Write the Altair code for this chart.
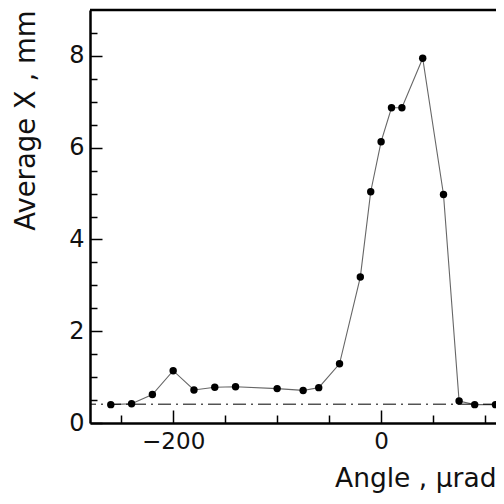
import altair as alt
import pandas as pd

# data
angle = [-260, -240, -220, -200, -180, -160, -140, -100, -75, -60, -40,
         -20, -10, 0, 10, 20, 40, 60, 75, 90, 110]
avg_x = [0.40, 0.42, 0.62, 1.14, 0.72, 0.78, 0.79, 0.75, 0.71, 0.77, 1.29,
         3.18, 5.04, 6.13, 6.87, 6.87, 7.95, 4.98, 0.48, 0.40, 0.40]
baseline_level = [0.41]

x_label_values = [-200, 0]
x_tick_values = [-250, -200, -150, -100, -50, 0, 50, 100]
y_label_values = [0, 2, 4, 6, 8]
y_tick_values = [0, 0.5, 1, 1.5, 2, 2.5, 3, 3.5, 4, 4.5, 5, 5.5, 6, 6.5,
                 7, 7.5, 8, 8.5]

x_domain = [-280, 110.5]
y_domain = [0, 9]

W, H = 406, 413
FONT = "DejaVu Sans"

df = pd.DataFrame({"angle": angle, "avg": avg_x})
df_base = pd.DataFrame({"level": baseline_level})

xs = alt.Scale(domain=x_domain, nice=False, zero=False)
ys = alt.Scale(domain=y_domain, nice=False, zero=False)

x_main = alt.X("angle:Q", scale=xs, axis=alt.Axis(
    orient="bottom", values=x_label_values, ticks=False, tickSize=0, grid=False,
    domain=True, domainColor="black", domainWidth=2.5,
    labelFont=FONT, labelFontSize=23, labelColor="#111", labelPadding=7,
    labelExpr="datum.value < 0 ? '\u2212' + abs(datum.value) : datum.label",
    title="Angle , \u03bcrad", titleFont=FONT, titleFontSize=26.5,
    titleFontWeight="normal", titleColor="#111", titleAnchor="end",
    titleAlign="right", titleBaseline="alphabetic", titleX=W, titleY=63))
y_main = alt.Y("avg:Q", scale=ys, axis=alt.Axis(
    orient="left", values=y_label_values, ticks=False, tickSize=0, grid=False,
    domain=True, domainColor="black", domainWidth=2.5,
    labelFont=FONT, labelFontSize=24, labelColor="#111", labelPadding=6,
    title="Average X , mm", titleFont=FONT, titleFontSize=27.5,
    titleFontWeight="normal", titleColor="#111", titleAngle=270,
    titleAlign="right", titleBaseline="alphabetic", titleX=-56, titleY=0))

base = alt.Chart(df)

line = base.mark_line(color="#666", strokeWidth=1.1).encode(x=x_main, y=y_main)
points = base.mark_circle(size=55, color="black", opacity=1).encode(
    x=alt.X("angle:Q", scale=xs, axis=None), y=alt.Y("avg:Q", scale=ys, axis=None))

# inward tick marks: axes moved onto the opposite edge
ticks = base.mark_point(opacity=0).encode(
    x=alt.X("angle:Q", scale=xs, axis=alt.Axis(
        orient="top", offset=-H, values=x_tick_values, labels=False,
        domain=False, grid=False, title=None, tickColor="black", tickWidth=1.5,
        tickSize=alt.condition("datum.value % 200 === 0", alt.value(13), alt.value(8)))),
    y=alt.Y("avg:Q", scale=ys, axis=alt.Axis(
        orient="right", offset=-W, values=y_tick_values, labels=False,
        domain=False, grid=False, title=None, tickColor="black", tickWidth=1.5,
        tickSize=alt.condition("datum.value % 2 === 0", alt.value(12), alt.value(7)))),
)

level = alt.Chart(df_base).mark_rule(
    color="black", strokeWidth=1, strokeDash=[13, 5, 2, 5]).encode(
    y=alt.Y("level:Q", scale=ys, axis=None))

top_frame = alt.Chart(df_base).mark_rule(color="black", strokeWidth=2.5).encode(
    x=alt.value(0), x2=alt.value(W), y=alt.value(0))

chart = alt.layer(line, level, points, ticks, top_frame).resolve_axis(
    x="independent", y="independent"
).properties(
    width=W, height=H,
    autosize=alt.AutoSizeParams(type="none"),
    padding={"left": 82, "top": 2, "right": 0, "bottom": 70},
).configure_view(stroke=None)

chart.save("out.html", embed_options={"renderer": "svg", "actions": False})
